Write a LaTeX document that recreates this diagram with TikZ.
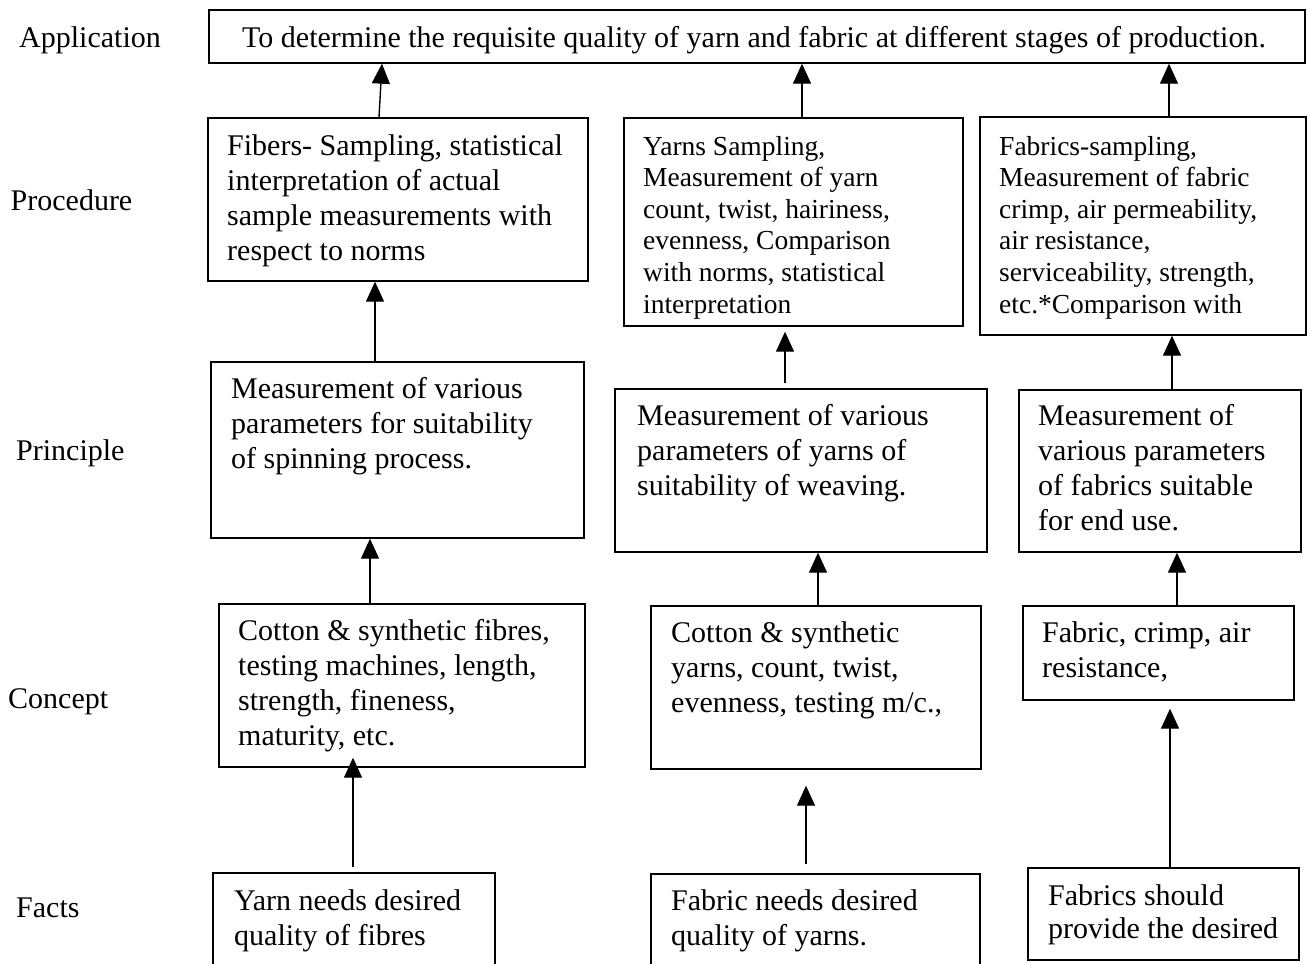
\documentclass[tikz,border=0pt]{standalone}
\usepackage{fontspec}
\setmainfont{Liberation Serif}[Ligatures=NoCommon]
\usetikzlibrary{arrows.meta}
\newcommand\bigf{\fontsize{30}{35}\selectfont}
\newcommand\smallf{\fontsize{27.5}{31.6}\selectfont}
\newcommand\mlines[1]{\begin{tabular}[t]{@{}l@{}}#1\end{tabular}}
\tikzset{
  box/.style={draw, line width=1.4pt, inner sep=0pt},
  txt/.style={anchor=base west, inner sep=0pt, font=\bigf},
  stxt/.style={anchor=base west, inner sep=0pt, font=\smallf},
  lbl/.style={anchor=base west, inner sep=0pt, font=\bigf},
  arr/.style={line width=1.4pt, -{Triangle[length=20pt,width=18pt]}}
}
\begin{document}
\begin{tikzpicture}[x=1pt,y=-1pt]
\clip (0,0) rectangle (1307,964);
\fill[white] (0,0) rectangle (1307,964);

% row labels
\node[lbl] (lapp) at (19,47) {Application};
\node[lbl] (lproc) at (10.5,210) {Procedure};
\node[lbl] (lprin) at (16,460) {Principle};
\node[lbl] (lconc) at (8,708) {Concept};
\node[lbl] (lfact) at (16,917) {Facts};

% boxes
\node[box, minimum width=1096pt, minimum height=53pt] (app) at (757,36.5) {};
\node[box, minimum width=380pt, minimum height=163pt] (proc1) at (398,199.5) {};
\node[box, minimum width=339pt, minimum height=208pt] (proc2) at (793.5,222) {};
\node[box, minimum width=326pt, minimum height=218pt] (proc3) at (1143,226) {};
\node[box, minimum width=373pt, minimum height=176pt] (prin1) at (397.5,450) {};
\node[box, minimum width=372pt, minimum height=163pt] (prin2) at (801,470.5) {};
\node[box, minimum width=282pt, minimum height=162pt] (prin3) at (1160,471) {};
\node[box, minimum width=366pt, minimum height=163pt] (conc1) at (402,685.5) {};
\node[box, minimum width=330pt, minimum height=163pt] (conc2) at (816,687.5) {};
\node[box, minimum width=271pt, minimum height=94pt] (conc3) at (1158.5,653) {};
\node[box, minimum width=282pt, minimum height=127pt] (fact1) at (354,936.5) {};
\node[box, minimum width=329pt, minimum height=126pt] (fact2) at (815.5,937) {};
\node[box, minimum width=271pt, minimum height=92pt] (fact3) at (1163.5,914) {};

% texts
\node[txt] (tapp) at (242,47) {To determine the requisite quality of yarn and fabric at different stages of production.};
\node[txt] (tproc1) at (227,155) {\mlines{Fibers- Sampling, statistical\\interpretation of actual\\sample measurements with\\respect to norms}};
\node[stxt] (tproc2) at (643,155) {\mlines{Yarns Sampling,\\Measurement of yarn\\count, twist, hairiness,\\evenness, Comparison\\with norms, statistical\\interpretation}};
\node[stxt] (tproc3) at (999,155) {\mlines{Fabrics-sampling,\\Measurement of fabric\\crimp, air permeability,\\air resistance,\\serviceability, strength,\\etc.*Comparison with}};
\node[txt] (tprin1) at (231,398) {\mlines{Measurement of various\\parameters for suitability\\of spinning process.}};
\node[txt] (tprin2) at (637,425) {\mlines{Measurement of various\\parameters of yarns of\\suitability of weaving.}};
\node[txt] (tprin3) at (1038,425) {\mlines{Measurement of\\various parameters\\of fabrics suitable\\for end use.}};
\node[txt] (tconc1) at (238,640) {\mlines{Cotton \& synthetic fibres,\\testing machines, length,\\strength, fineness,\\maturity, etc.}};
\node[txt] (tconc2) at (671,642) {\mlines{Cotton \& synthetic\\yarns, count, twist,\\evenness, testing m/c.,}};
\node[txt] (tconc3) at (1042,642) {\mlines{Fabric, crimp, air\\resistance,}};
\node[txt] (tfact1) at (234,910) {\mlines{Yarn needs desired\\quality of fibres}};
\node[txt] (tfact2) at (671,910) {\mlines{Fabric needs desired\\quality of yarns.}};
\node[txt, font=\fontsize{30}{33.5}\selectfont] (tfact3) at (1048,905) {\mlines{Fabrics should\\provide the desired}};

% connectors
\draw[arr] ([xshift=-19pt]proc1.north) -- ([xshift=-375pt]app.south);
\draw[arr] ([xshift=8.5pt]proc2.north) -- ([xshift=45pt]app.south);
\draw[arr] ([xshift=26pt]proc3.north) -- ([xshift=412pt]app.south);
\draw[arr] ([xshift=-22.5pt]prin1.north) -- ([xshift=-23pt]proc1.south);
\draw[arr, shorten <=5pt, shorten >=5pt] ([xshift=-16pt]prin2.north) -- ([xshift=-8.5pt]proc2.south);
\draw[arr] ([xshift=12pt]prin3.north) -- ([xshift=29pt]proc3.south);
\draw[arr] ([xshift=-32pt]conc1.north) -- ([xshift=-27.5pt]prin1.south);
\draw[arr] ([xshift=2pt]conc2.north) -- ([xshift=17pt]prin2.south);
\draw[arr] ([xshift=18.5pt]conc3.north) -- ([xshift=17pt]prin3.south);
\draw[arr, shorten <=5pt, shorten >=-10pt] ([xshift=-1pt]fact1.north) -- ([xshift=-49pt]conc1.south);
\draw[arr, shorten <=9pt, shorten >=16pt] ([xshift=-9.5pt]fact2.north) -- ([xshift=-10pt]conc2.south);
\draw[arr, shorten >=8pt] ([xshift=6.5pt]fact3.north) -- ([xshift=11.5pt]conc3.south);
\end{tikzpicture}
\end{document}
